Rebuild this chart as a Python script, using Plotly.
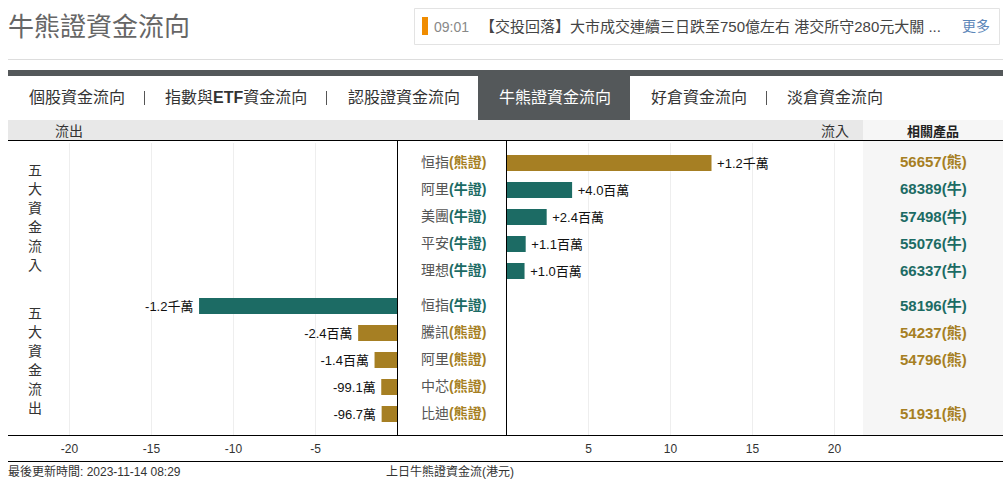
import plotly.graph_objects as go

W, H = 1006, 487
FONT = "Liberation Sans, Noto Sans CJK TC, sans-serif"
GOLD = "#a67f23"
TEAL = "#1c6b64"
DARK = "#54585a"

# 五大資金流入
in_names = ["恒指", "阿里", "美團", "平安", "理想"]
in_types = ["熊證", "牛證", "牛證", "牛證", "牛證"]
in_values = [12.5, 4.0, 2.45, 1.17, 1.1]
in_labels = ["+1.2千萬", "+4.0百萬", "+2.4百萬", "+1.1百萬", "+1.0百萬"]
in_codes = ["56657", "68389", "57498", "55076", "66337"]

# 五大資金流出
out_names = ["恒指", "騰訊", "阿里", "中芯", "比迪"]
out_types = ["牛證", "熊證", "熊證", "熊證", "熊證"]
out_values = [-12.1, -2.4, -1.4, -0.991, -0.967]
out_labels = ["-1.2千萬", "-2.4百萬", "-1.4百萬", "-99.1萬", "-96.7萬"]
out_codes = ["58196", "54237", "54796", "", "51931"]

left_ticks = [-20, -15, -10, -5]
right_ticks = [5, 10, 15, 20]

tabs = ["個股資金流向", "指數與<b>ETF</b>資金流向", "認股證資金流向", "牛熊證資金流向", "好倉資金流向", "淡倉資金流向"]
tab_x = [27, 163, 346, 497, 649, 785]
news = "【交投回落】大市成交連續三日跌至750億左右 港交所守280元大關 ..."


def px(x):
    return x / W


def py(y):
    return 1 - y / H


def colour(kind):
    return GOLD if kind.startswith("熊") else TEAL


# rows are 27px apart, with 35px between the two groups
ROW = 27
in_rows = list(range(5))
out_rows = [i + 35 / ROW + 4 for i in range(5)]

fig = go.Figure()
fig.add_trace(go.Bar(
    x=out_values, y=out_rows, orientation="h", width=16 / ROW, xaxis="x", yaxis="y",
    marker_color=[colour(t) for t in out_types], marker_line_width=0,
    text=out_labels, texttemplate="%{text}\u2009", textposition="outside", cliponaxis=False,
    textfont=dict(size=13, color="#111", family=FONT),
))
fig.add_trace(go.Bar(
    x=in_values, y=in_rows, orientation="h", width=16 / ROW, xaxis="x2", yaxis="y",
    marker_color=[colour(t) for t in in_types], marker_line_width=0,
    text=in_labels, texttemplate="\u2009%{text}", textposition="outside", cliponaxis=False,
    textfont=dict(size=13, color="#111", family=FONT),
))

ann = []


def label(x, y, text, size=14, color="#333", anchor="left"):
    ann.append(dict(x=px(x), y=py(y), xref="paper", yref="paper", text=text, showarrow=False,
                    xanchor=anchor, yanchor="middle", align=anchor,
                    font=dict(size=size, color=color, family=FONT)))


shapes = []


def rect(x0, y0, x1, y1, fill, line=None):
    shapes.append(dict(type="rect", xref="paper", yref="paper", x0=px(x0), x1=px(x1), y0=py(y0), y1=py(y1),
                       fillcolor=fill, line=dict(color=line or fill, width=1 if line else 0), layer="below"))


def hline(y, x0, x1, color, width=1):
    shapes.append(dict(type="line", xref="paper", yref="paper", x0=px(x0), x1=px(x1), y0=py(y), y1=py(y),
                       line=dict(color=color, width=width), layer="above"))


def vline(x, y0, y1, color, width=1):
    shapes.append(dict(type="line", xref="paper", yref="paper", x0=px(x), x1=px(x), y0=py(y0), y1=py(y1),
                       line=dict(color=color, width=width), layer="above"))


# page header
label(6, 27, "牛熊證資金流向", size=26, color="#666")
hline(59.5, 8, 1003, "#ddd")
rect(414.5, 8.5, 999.5, 44.5, "white", "#e3e3e3")
rect(422, 17, 428, 35, "#f08c00")
label(432, 27, "09:01", size=14, color="#888")
label(478, 27, news, size=15, color="#444")
label(960, 26, "更多", size=14, color="#5b86b8")

# tabs
rect(8, 70, 1003, 76, DARK)
rect(478, 76, 630, 120, DARK)
for name, x in zip(tabs, tab_x):
    label(x, 98, name, size=16, color="white" if name == "牛熊證資金流向" else "#333")
for x in [144.5, 326.5, 766.5]:
    vline(x, 91, 105, "#555")

# table header
rect(8, 120, 863, 140, "#e8e8e8")
rect(863, 120, 1003, 435, "#f6f6f6")
label(53, 131, "流出", size=14)
label(819, 131, "流入", size=14)
label(933, 131, "<b>相關產品</b>", size=13, color="#222", anchor="center")
hline(140.5, 8, 1003, "#000")
hline(435.5, 8, 1003, "#000")
hline(461.5, 8, 1003, "#000")
vline(397.5, 140, 435, "#000")
vline(506.5, 140, 435, "#000")

for i, ch in enumerate("五大資金流入"):
    label(35, 170 + i * 19, ch, size=14, anchor="center")
for i, ch in enumerate("五大資金流出"):
    label(35, 313 + i * 19, ch, size=14, anchor="center")

# row names and related products
rows = list(zip(in_names + out_names, in_types + out_types, in_codes + out_codes, in_rows + out_rows))
for name, kind, code, row in rows:
    y = 162 + row * ROW
    label(453, y, f"{name}<span style='color:{colour(kind)}'><b>({kind})</b></span>", anchor="center", color="#555")
    if code:
        label(933.5, y, f"<b>{code}({kind[0]})</b>", size=15, color=colour(kind), anchor="center")

label(6, 471, "最後更新時間: 2023-11-14 08:29", size=12)
label(450, 471, "上日牛熊證資金流(港元)", size=12, anchor="center")

axis = dict(showline=False, zeroline=False, gridcolor="#eeeeee", gridwidth=1, ticks="", anchor="y",
            tickfont=dict(size=12, color="#333", family=FONT), ticklabelstandoff=5)
fig.update_layout(
    width=W, height=H, margin=dict(l=0, r=0, t=0, b=0), autosize=False,
    paper_bgcolor="white", plot_bgcolor="rgba(0,0,0,0)",
    showlegend=False, barmode="overlay",
    xaxis=dict(domain=[px(8), px(397.5)], range=[-389.5 / 16.4, 0], tickvals=left_ticks,
               ticktext=[str(t) for t in left_ticks], **axis),
    xaxis2=dict(domain=[px(506.5), px(863)], range=[0, 356.5 / 16.4], tickvals=right_ticks,
                ticktext=[str(t) for t in right_ticks], **axis),
    yaxis=dict(domain=[py(435), py(143)], range=[(435 - 163) / ROW, -20 / ROW], visible=False),
    annotations=ann, shapes=shapes,
)
fig.write_html("out.html", config={"displayModeBar": False}, post_script="document.body.style.margin='0';")
